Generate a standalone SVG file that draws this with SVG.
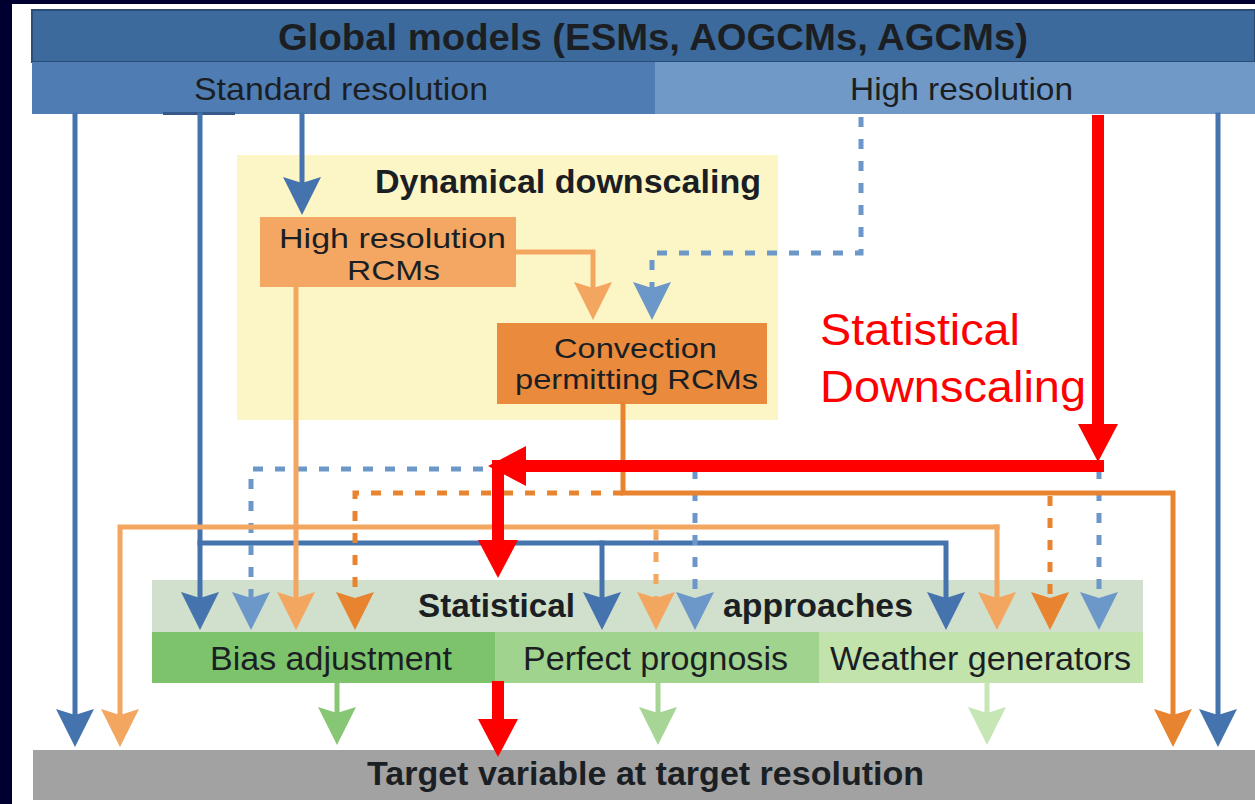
<svg xmlns="http://www.w3.org/2000/svg" width="1255" height="804" viewBox="0 0 1255 804">
<style>
.t{font-family:"Liberation Sans",Arial,Helvetica,sans-serif;fill:#1b1f24}
.b{font-weight:bold}
.ln{fill:none;stroke-width:5;stroke-linejoin:miter}
.sol{stroke-linecap:square}
.dash{stroke-dasharray:10 12}
.bl{stroke:#4573ad;marker-end:url(#ah-blue)}
.bd{stroke:#6b98c8;marker-end:url(#ah-bluel)}
.ol{stroke:#f2a660;marker-end:url(#ah-orl)}
.od{stroke:#e8832f;marker-end:url(#ah-ord)}
.red{fill:none;stroke:#ff0000;stroke-width:12;marker-end:url(#ah-red)}
</style>
<defs>
<marker id="ah-blue" viewBox="-10 -22 44 44" markerWidth="44" markerHeight="44" refX="0" refY="0" orient="auto" markerUnits="userSpaceOnUse"><path d="M32,0 L-6,-19 L0,0 L-6,19 Z" fill="#4573ad"/></marker>
<marker id="ah-bluel" viewBox="-10 -22 44 44" markerWidth="44" markerHeight="44" refX="0" refY="0" orient="auto" markerUnits="userSpaceOnUse"><path d="M32,0 L-6,-19 L0,0 L-6,19 Z" fill="#6b98c8"/></marker>
<marker id="ah-orl" viewBox="-10 -22 44 44" markerWidth="44" markerHeight="44" refX="0" refY="0" orient="auto" markerUnits="userSpaceOnUse"><path d="M32,0 L-6,-19 L0,0 L-6,19 Z" fill="#f2a660"/></marker>
<marker id="ah-ord" viewBox="-10 -22 44 44" markerWidth="44" markerHeight="44" refX="0" refY="0" orient="auto" markerUnits="userSpaceOnUse"><path d="M32,0 L-6,-19 L0,0 L-6,19 Z" fill="#e8832f"/></marker>
<marker id="ah-g1" viewBox="-10 -22 44 44" markerWidth="44" markerHeight="44" refX="0" refY="0" orient="auto" markerUnits="userSpaceOnUse"><path d="M32,0 L-6,-19 L0,0 L-6,19 Z" fill="#86c675"/></marker>
<marker id="ah-g2" viewBox="-10 -22 44 44" markerWidth="44" markerHeight="44" refX="0" refY="0" orient="auto" markerUnits="userSpaceOnUse"><path d="M32,0 L-6,-19 L0,0 L-6,19 Z" fill="#a6d596"/></marker>
<marker id="ah-g3" viewBox="-10 -22 44 44" markerWidth="44" markerHeight="44" refX="0" refY="0" orient="auto" markerUnits="userSpaceOnUse"><path d="M32,0 L-6,-19 L0,0 L-6,19 Z" fill="#c6e6b6"/></marker>
<marker id="ah-red" viewBox="-2 -22 42 44" markerWidth="42" markerHeight="44" refX="0" refY="0" orient="auto" markerUnits="userSpaceOnUse"><path d="M0,-20 L38,0 L0,20 Z" fill="#ff0000"/></marker>
</defs>

<rect x="0" y="0" width="1255" height="804" fill="#000030"/>
<rect x="12" y="4" width="1243" height="800" fill="#ffffff"/>

<g id="global-models">
<rect x="32" y="10" width="1223" height="52" fill="#3d6a9d" stroke="#2b4c75" stroke-width="2"/>
<text class="t b" x="278" y="50" font-size="37" textLength="750" lengthAdjust="spacingAndGlyphs" fill="#1a2430">Global models (ESMs, AOGCMs, AGCMs)</text>
</g>
<g id="standard-resolution">
<rect x="32" y="62" width="623" height="52" fill="#4f7db3"/>
<rect x="163" y="112" width="72" height="3" fill="#35598a"/>
<text class="t" x="194" y="100" font-size="32" textLength="294" lengthAdjust="spacingAndGlyphs" fill="#1f2a38">Standard resolution</text>
</g>
<g id="high-resolution">
<rect x="655" y="62" width="600" height="52" fill="#7199c8"/>
<text class="t" x="850" y="100" font-size="32" textLength="223" lengthAdjust="spacingAndGlyphs" fill="#1f2a38">High resolution</text>
</g>

<g id="dynamical-downscaling">
<rect x="237" y="155" width="541" height="265" fill="#fcf6c6"/>
<text class="t b" x="375" y="193" font-size="33" textLength="386" lengthAdjust="spacingAndGlyphs">Dynamical downscaling</text>
</g>
<g id="high-resolution-rcms">
<rect x="260" y="217" width="256" height="70" fill="#f3a763"/>
<text class="t" x="279" y="248" font-size="28" textLength="227" lengthAdjust="spacingAndGlyphs" fill="#2a1a0e">High resolution</text>
<text class="t" x="347" y="280" font-size="28" textLength="93" lengthAdjust="spacingAndGlyphs" fill="#2a1a0e">RCMs</text>
</g>
<g id="convection-permitting-rcms">
<rect x="497" y="323" width="270" height="81" fill="#e98a3c"/>
<text class="t" x="554" y="358" font-size="28" textLength="163" lengthAdjust="spacingAndGlyphs" fill="#2a1a0e">Convection</text>
<text class="t" x="515" y="389" font-size="28" textLength="243" lengthAdjust="spacingAndGlyphs" fill="#2a1a0e">permitting RCMs</text>
</g>

<g id="statistical-approaches">
<rect x="152" y="580" width="991" height="52" fill="#d1dfcd"/>
<text class="t b" x="418" y="617" font-size="33" textLength="157" lengthAdjust="spacingAndGlyphs">Statistical</text>
<text class="t b" x="723" y="617" font-size="33" textLength="190" lengthAdjust="spacingAndGlyphs">approaches</text>
</g>
<g id="bias-adjustment">
<rect x="152" y="632" width="343" height="51" fill="#7dc36c"/>
<text class="t" x="210" y="670" font-size="33" textLength="242" lengthAdjust="spacingAndGlyphs" fill="#15240f">Bias adjustment</text>
</g>
<g id="perfect-prognosis">
<rect x="495" y="632" width="324" height="51" fill="#a0d38d"/>
<text class="t" x="523" y="670" font-size="33" textLength="265" lengthAdjust="spacingAndGlyphs" fill="#15240f">Perfect prognosis</text>
</g>
<g id="weather-generators">
<rect x="819" y="632" width="324" height="51" fill="#c3e3ad"/>
<text class="t" x="830" y="670" font-size="33" textLength="301" lengthAdjust="spacingAndGlyphs" fill="#15240f">Weather generators</text>
</g>
<g id="target-variable">
<rect x="33" y="750" width="1222" height="50" fill="#a2a2a2"/>
<text class="t b" x="367" y="785" font-size="33" textLength="557" lengthAdjust="spacingAndGlyphs">Target variable at target resolution</text>
</g>

<g id="connectors">
<path class="ln sol bl" d="M75 115 V715"/>
<path class="ln sol bl" d="M200 115 V598"/>
<path class="ln sol bl" d="M200 543 H946 V598"/>
<path class="ln sol bl" d="M602 543 V598"/>
<path class="ln sol bl" d="M302 115 V183"/>
<path class="ln sol bl" d="M1218 115 V715"/>
<path class="ln dash bd" d="M861 117 V253 H652 V288"/>
<path class="ln dash bd" d="M1099 469 H251 V598"/>
<path class="ln dash bd" d="M695 469 V598"/>
<path class="ln dash bd" d="M1099 469 V598"/>
<path class="ln sol ol" d="M516 252 H593 V288"/>
<path class="ln sol ol" d="M296 287 V598"/>
<path class="ln sol ol" d="M997 527 H120 V715"/>
<path class="ln sol ol" d="M997 527 V598"/>
<path class="ln dash ol" d="M656 530 V598"/>
<path class="ln sol od" d="M623 404 V493 H1173 V715"/>
<path class="ln dash od" d="M623 493 H355 V598"/>
<path class="ln dash od" d="M1050 496 V598"/>
<path class="ln" stroke="#86c675" marker-end="url(#ah-g1)" d="M337 683 V713"/>
<path class="ln" stroke="#a6d596" marker-end="url(#ah-g2)" d="M658 683 V713"/>
<path class="ln" stroke="#c6e6b6" marker-end="url(#ah-g3)" d="M987 683 V713"/>
<path class="red" d="M1098 115 V424"/>
<path class="red" d="M1104 466 H526"/>
<path class="red" d="M498 460 V540"/>
<path class="red" d="M498 681 V719"/>
</g>
<g id="label-statistical-downscaling">
<text x="820" y="345" font-family="Liberation Sans, Arial, sans-serif" font-size="44" fill="#ff0000" textLength="200" lengthAdjust="spacingAndGlyphs">Statistical</text>
<text x="820" y="402" font-family="Liberation Sans, Arial, sans-serif" font-size="44" fill="#ff0000" textLength="266" lengthAdjust="spacingAndGlyphs">Downscaling</text>
</g>
</svg>
